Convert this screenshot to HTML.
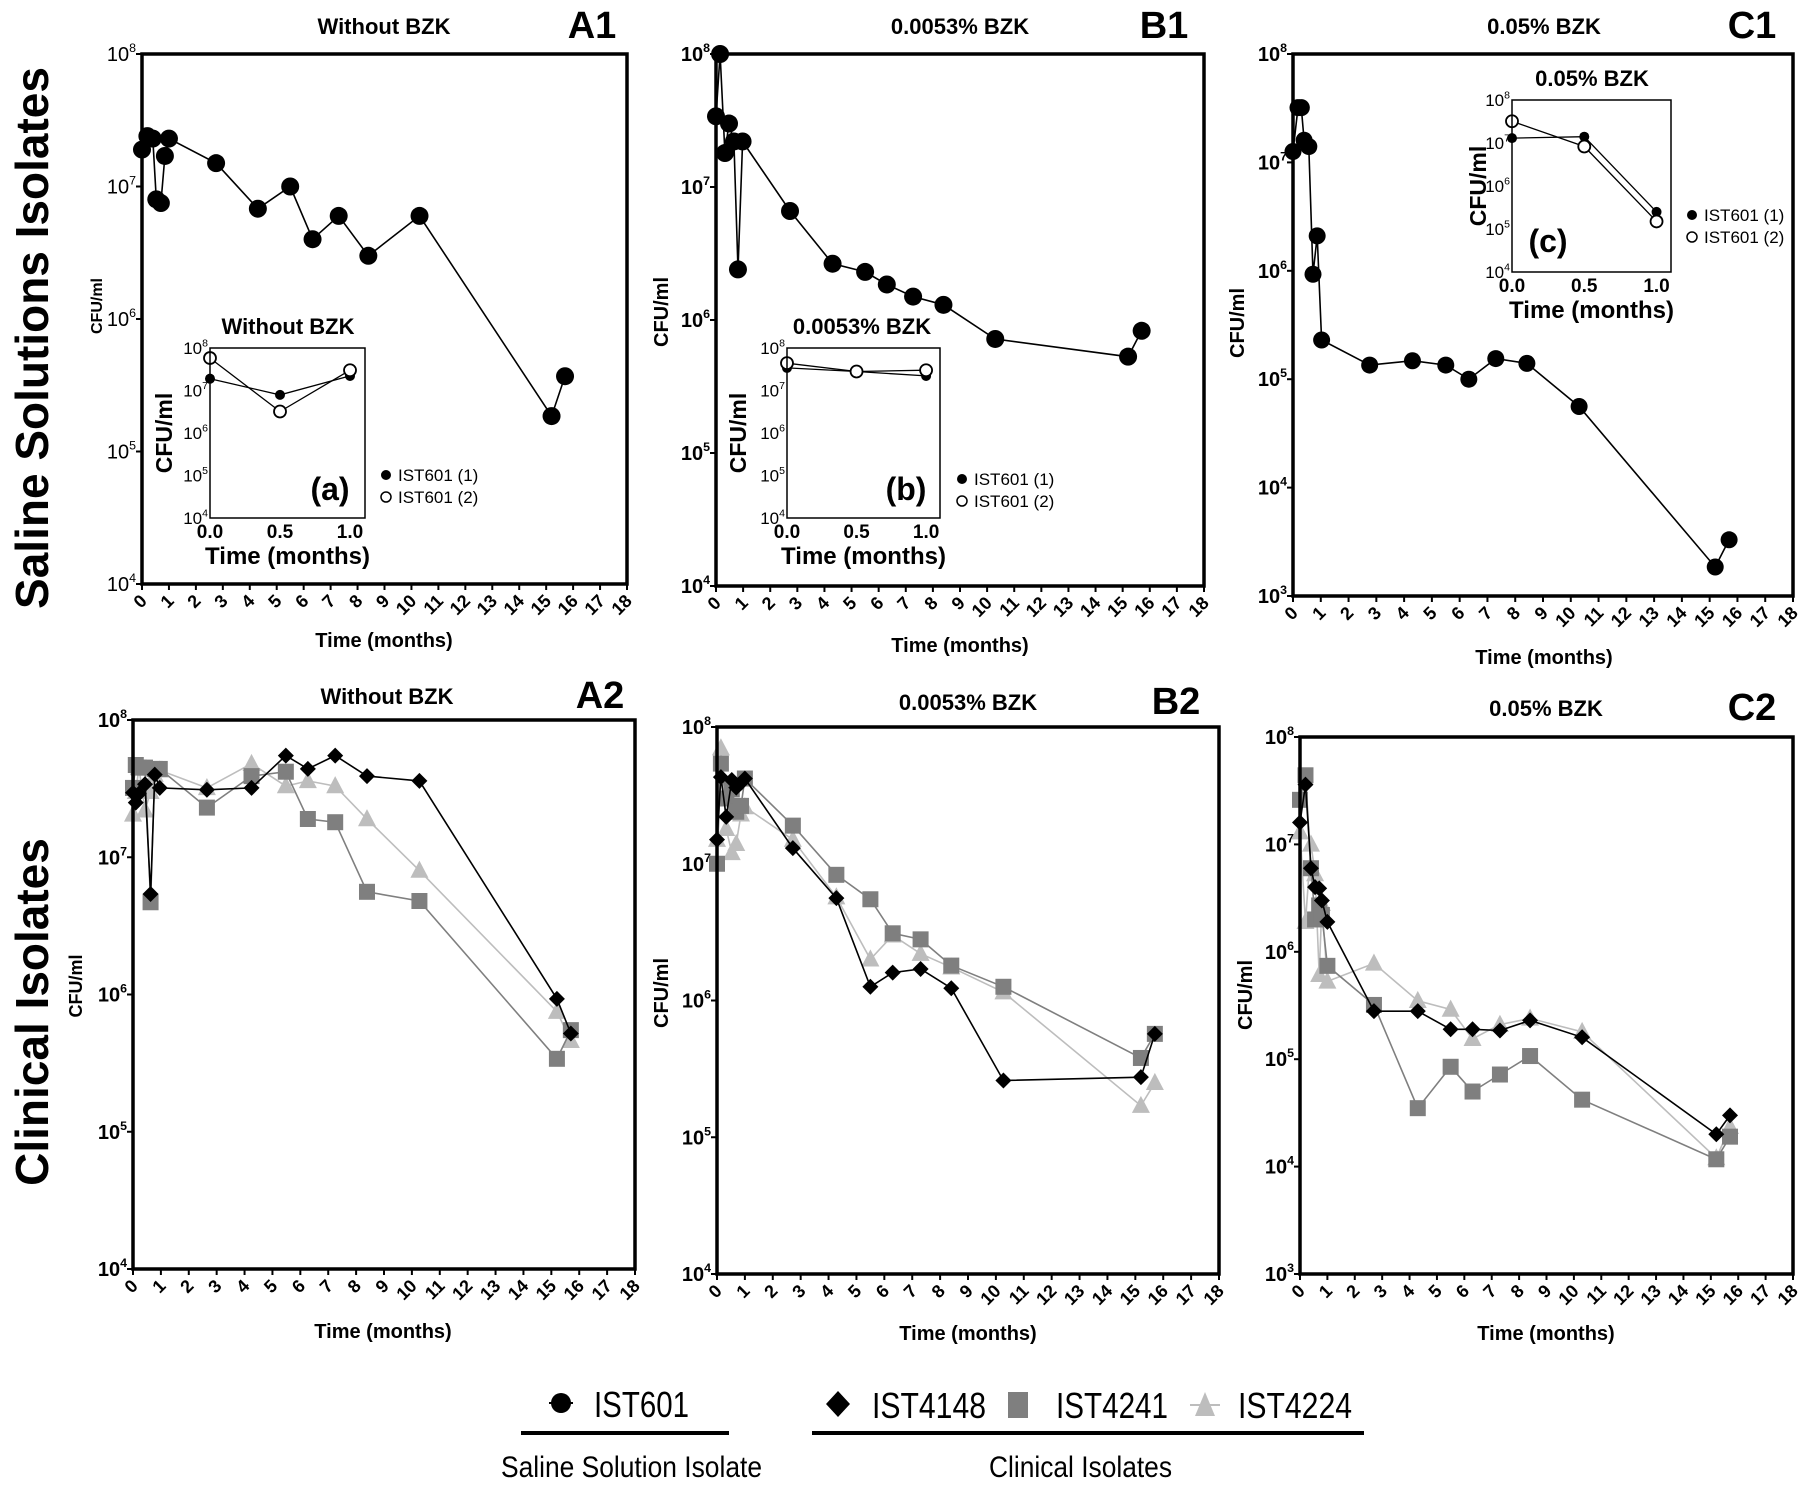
<!DOCTYPE html>
<html><head><meta charset="utf-8"><style>
html,body{margin:0;padding:0;background:#fff;}
svg{display:block;font-family:"Liberation Sans",Arial,sans-serif;}
</style></head><body>
<svg id="fig" width="1807" height="1486" viewBox="0 0 1807 1486" xmlns="http://www.w3.org/2000/svg">
<rect width="1807" height="1486" fill="#fff"/>
<text transform="translate(48,338) rotate(-90)" text-anchor="middle" font-size="46" font-weight="bold">Saline Solutions Isolates</text>
<text transform="translate(48,1012) rotate(-90)" text-anchor="middle" font-size="46" font-weight="bold">Clinical Isolates</text>
<g id="legend">
  <path d="M521 1433 H729" stroke="#000" stroke-width="4"/>
  <line x1="549" y1="1403" x2="573" y2="1403" stroke="#000" stroke-width="2"/>
  <circle cx="561" cy="1403" r="10" fill="#000"/>
  <text x="594" y="1417" font-size="36" textLength="95" lengthAdjust="spacingAndGlyphs">IST601</text>
  <text x="501" y="1477" font-size="30" textLength="261" lengthAdjust="spacingAndGlyphs">Saline Solution Isolate</text>
  <path d="M812 1433 H1364" stroke="#000" stroke-width="4"/>
  <path d="M838 1391 L850 1404 L838 1417 L826 1404 Z" fill="#000"/>
  <text x="872" y="1418" font-size="36" textLength="114" lengthAdjust="spacingAndGlyphs">IST4148</text>
  <rect x="1008" y="1392" width="20" height="26" fill="#7f7f7f"/>
  <text x="1056" y="1418" font-size="36" textLength="112" lengthAdjust="spacingAndGlyphs">IST4241</text>
  <path d="M1205 1392 L1215 1416 L1195 1416 Z" fill="#bdbdbd"/>
  <line x1="1190" y1="1405" x2="1220" y2="1405" stroke="#bdbdbd" stroke-width="2"/>
  <text x="1238" y="1418" font-size="36" textLength="114" lengthAdjust="spacingAndGlyphs">IST4224</text>
  <text x="989" y="1477" font-size="30" textLength="183" lengthAdjust="spacingAndGlyphs">Clinical Isolates</text>
</g>
</svg>
<script>
// ---------- data ----------
const monthTicks = [0,1,2,3,4,5,6,7,8,9,10,11,12,13,14,15,16,17,18];
const a1Time = [0,0.2,0.4,0.53,0.7,0.85,1.0,2.75,4.3,5.5,6.33,7.3,8.4,10.3,15.2,15.7];
const a1IST601 = [1.9e7,2.4e7,2.3e7,8e6,7.5e6,1.7e7,2.3e7,1.5e7,6.8e6,1e7,4e6,6e6,3e6,6e6,1.85e5,3.7e5];
const b1Time = [0,0.15,0.33,0.48,0.66,0.81,0.98,2.73,4.3,5.5,6.3,7.27,8.39,10.3,15.2,15.7];
const b1IST601 = [3.4e7,1e8,1.8e7,3e7,2.2e7,2.4e6,2.2e7,6.6e6,2.65e6,2.3e6,1.85e6,1.5e6,1.3e6,7.2e5,5.3e5,8.3e5];
const c1Time = [0,0.18,0.3,0.4,0.57,0.72,0.87,1.03,2.76,4.3,5.5,6.33,7.3,8.42,10.3,15.2,15.7];
const c1IST601 = [1.26e7,3.2e7,3.2e7,1.6e7,1.4e7,9.3e5,2.1e6,2.3e5,1.35e5,1.48e5,1.35e5,1e5,1.55e5,1.4e5,5.6e4,1.85e3,3.3e3];

const a2Time = [0,0.1,0.21,0.43,0.63,0.78,0.96,2.65,4.25,5.48,6.27,7.25,8.39,10.27,15.2,15.7];
const a2IST4148 = [2.95e7,2.5e7,2.9e7,3.4e7,5.4e6,4e7,3.2e7,3.1e7,3.2e7,5.5e7,4.4e7,5.5e7,3.9e7,3.6e7,9.3e5,5.2e5];
const a2IST4241 = [3.2e7,4.7e7,4.5e7,4.5e7,4.7e6,4.4e7,4.4e7,2.3e7,3.9e7,4.2e7,1.9e7,1.8e7,5.6e6,4.8e6,3.4e5,5.5e5];
const a2IST4224 = [2.05e7,3e7,4.5e7,2.2e7,3e7,4e7,4.3e7,3.2e7,4.8e7,3.3e7,3.6e7,3.3e7,1.9e7,8e6,7.5e5,4.6e5];

const b2Time = [0,0.14,0.33,0.53,0.69,0.86,1.0,2.72,4.28,5.5,6.3,7.3,8.4,10.27,15.2,15.7];
const b2IST4148 = [1.5e7,4.3e7,2.2e7,4.1e7,3.6e7,3.9e7,4.2e7,1.3e7,5.6e6,1.26e6,1.6e6,1.7e6,1.23e6,2.6e5,2.75e5,5.7e5];
const b2IST4241 = [1e7,5.4e7,3e7,3.5e7,2.4e7,2.65e7,4.2e7,1.9e7,8.3e6,5.5e6,3.1e6,2.8e6,1.8e6,1.26e6,3.8e5,5.7e5];
const b2IST4224 = [1.5e7,7e7,1.8e7,1.2e7,1.4e7,2.3e7,2.6e7,1.5e7,5.7e6,2e6,3e6,2.2e6,1.75e6,1.15e6,1.7e5,2.5e5];

const c2Time = [0,0.2,0.4,0.55,0.7,0.8,1.0,2.7,4.3,5.5,6.3,7.3,8.4,10.3,15.2,15.7];
const c2IST4148 = [1.6e7,3.6e7,6e6,4e6,3.9e6,3e6,1.9e6,2.8e5,2.8e5,1.9e5,1.9e5,1.85e5,2.3e5,1.6e5,2e4,3e4];
const c2IST4241 = [2.6e7,4.4e7,6e6,2e6,2.7e6,2.2e6,7.4e5,3.2e5,3.5e4,8.5e4,5e4,7.2e4,1.07e5,4.2e4,1.17e4,1.9e4];
const c2IST4224 = [1.3e7,1.9e6,1e7,5.3e6,6.1e5,2.8e6,5.3e5,7.8e5,3.5e5,2.9e5,1.55e5,2.1e5,2.4e5,1.8e5,1.2e4,2.35e4];

const insetTime = [0,0.5,1.0];
const insetTicks = [0,0.5,1.0];
const insetTickLabels = ["0.0","0.5","1.0"];
const aInset1 = [1.9e7,7.9e6,2.2e7];
const aInset2 = [5.8e7,3.2e6,3e7];
const bInset1 = [3.4e7,2.8e7,2.2e7];
const bInset2 = [4.4e7,2.8e7,3e7];
const cInset1 = [1.3e7,1.4e7,2.5e5];
const cInset2 = [3.2e7,8.3e6,1.5e5];

// ---------- drawing ----------
const NS = "http://www.w3.org/2000/svg";
const svg = document.getElementById('fig');
function mk(tag, attrs, parent){
  const e = document.createElementNS(NS, tag);
  for (const k in attrs) e.setAttribute(k, attrs[k]);
  (parent||svg).appendChild(e);
  return e;
}
function makeScales(p){
  const sx = t => p.x0 + (t - p.xMin) / (p.xMax - p.xMin) * (p.x1 - p.x0);
  const sy = v => p.y0 + (p.dMax - Math.log10(v)) / (p.dMax - p.dMin) * (p.y1 - p.y0);
  return {sx, sy};
}
function powLabel(g, x, y, exp, fs, bold, name){
  const t = mk('text', {x:x, y:y, 'text-anchor':'end', 'font-size':fs, 'font-weight':bold?'bold':'normal'}, g);
  
  
  const a = document.createElementNS(NS,'tspan'); a.textContent='10'; t.appendChild(a);
  const b = document.createElementNS(NS,'tspan'); b.setAttribute('dy', -fs*0.45); b.setAttribute('font-size', fs*0.62); b.textContent=String(exp); t.appendChild(b);
  // shift so whole label ends at x
  t.setAttribute('x', x);
}
function marker(g, type, x, y, s, name){
  let e;
  if (type==='circle') e = mk('circle',{cx:x,cy:y,r:s,fill:'#000'},g);
  else if (type==='open') e = mk('circle',{cx:x,cy:y,r:s,fill:'#fff',stroke:'#000','stroke-width':1.8},g);
  else if (type==='diamond') e = mk('path',{d:`M${x} ${y-s} L${x+s} ${y} L${x} ${y+s} L${x-s} ${y} Z`,fill:'#000'},g);
  else if (type==='square') e = mk('rect',{x:x-s,y:y-s,width:2*s,height:2*s,fill:'#7f7f7f'},g);
  else e = mk('path',{d:`M${x} ${y-s*1.1} L${x+s} ${y+s*0.8} L${x-s} ${y+s*0.8} Z`,fill:'#bdbdbd'},g);
  
  
}
function series(g, sc, times, vals, type, color, size, lw, name){
  const sg = mk('g', {}, g);
  
  
  let d = '';
  times.forEach((t,i)=>{ d += (i?'L':'M') + sc.sx(t).toFixed(1) + ' ' + sc.sy(vals[i]).toFixed(1) + ' '; });
  const ln = mk('path', {d:d, fill:'none', stroke:color, 'stroke-width':lw}, sg);
  
  
  times.forEach((t,i)=>{ marker(sg, type, sc.sx(t), sc.sy(vals[i]), size, name + '-point'); });
}
function mainPanel(p){
  const g = mk('g', {});
  
  
  const sc = makeScales(p);
  const tt = mk('text',{x:p.titleX,y:p.titleY,'text-anchor':'middle','font-size':22,'font-weight':'bold'},g);
  tt.textContent = p.title;
  
  
  const lb = mk('text',{x:p.labX,y:p.titleY+4,'text-anchor':'middle','font-size':38,'font-weight':'bold'},g);
  lb.textContent = p.label;
  
  
  // y ticks
  for (let d=p.dMin; d<=p.dMax; d++){
    const y = sc.sy(Math.pow(10,d));
    const tk = mk('line',{x1:p.x0-6,y1:y,x2:p.x0,y2:y,stroke:'#000','stroke-width':2},g);
    
    
    powLabel(g, p.x0-6, y+7, d, 20, p.boldTicks, 'y-tick-label');
  }
  // x ticks
  monthTicks.forEach(m=>{
    const x = sc.sx(m);
    const tk = mk('line',{x1:x,y1:p.y1,x2:x,y2:p.y1+6,stroke:'#000','stroke-width':2},g);
    
    
    const tl = mk('text',{x:x+6,y:p.y1+18,'text-anchor':'end','font-size':18,'font-weight':'bold',transform:`rotate(-45 ${x+6} ${p.y1+18})`},g);
    tl.textContent = String(m);
    
    
  });
  const yt = mk('text',{transform:`translate(${p.yLabX},${p.yLabY}) rotate(-90)`,'text-anchor':'middle','font-size':p.yLabFs,'font-weight':'bold'},g);
  yt.textContent='CFU/ml';
  
  
  const xt = mk('text',{x:p.xLabX,y:p.xLabY,'text-anchor':'middle','font-size':20,'font-weight':'bold'},g);
  xt.textContent='Time (months)';
  
  
  p.series.forEach(s=> series(g, sc, s.t, s.v, s.type, s.color, s.size, s.lw, p.id + '-' + s.name));
  const fr = mk('rect',{x:p.x0,y:p.y0,width:p.x1-p.x0,height:p.y1-p.y0,fill:'none',stroke:'#000','stroke-width':3.5},g);
  
  
  return g;
}
function insetPanel(p){
  const g = mk('g', {});
  
  
  const sc = makeScales(p);
  const bg = mk('rect',{x:p.x0,y:p.y0,width:p.x1-p.x0,height:p.y1-p.y0,fill:'#fff'},g);
  
  
  const tt = mk('text',{x:p.titleX,y:p.titleY,'text-anchor':'middle','font-size':22,'font-weight':'bold'},g);
  tt.textContent = p.title;
  
  
  for (let d=p.dMin; d<=p.dMax; d++){
    powLabel(g, p.x0-2, sc.sy(Math.pow(10,d))+6, d, 17, false, 'inset-y-tick-label');
  }
  insetTicks.forEach((t,i)=>{
    const tl = mk('text',{x:sc.sx(t),y:p.y1+20,'text-anchor':'middle','font-size':19,'font-weight':'bold'},g);
    tl.textContent = insetTickLabels[i];
    
    
  });
  const yt = mk('text',{transform:`translate(${p.yLabX},${(p.y0+p.y1)/2}) rotate(-90)`,'text-anchor':'middle','font-size':23,'font-weight':'bold'},g);
  yt.textContent='CFU/ml';
  
  
  const xt = mk('text',{x:(p.x0+p.x1)/2,y:p.y1+46,'text-anchor':'middle','font-size':24,'font-weight':'bold'},g);
  xt.textContent='Time (months)';
  
  
  const lt = mk('text',{x:p.letX,y:p.letY,'text-anchor':'middle','font-size':32,'font-weight':'bold'},g);
  lt.textContent = p.letter;
  
  
  series(g, sc, insetTime, p.s1, 'circle', '#000', 5, 1.3, p.id + '-inset-ist601-1');
  series(g, sc, insetTime, p.s2, 'open', '#000', 6, 1.3, p.id + '-inset-ist601-2');
  const fr = mk('rect',{x:p.x0,y:p.y0,width:p.x1-p.x0,height:p.y1-p.y0,fill:'none',stroke:'#000','stroke-width':1.5},g);
  
  
  // legend
  const m1 = mk('circle',{cx:p.legX,cy:p.legY,r:5,fill:'#000'},g);
  
  
  const m2 = mk('circle',{cx:p.legX,cy:p.legY+22,r:5,fill:'#fff',stroke:'#000','stroke-width':1.5},g);
  
  
  const l1 = mk('text',{x:p.legX+12,y:p.legY+6,'font-size':17},g);
  l1.textContent='IST601 (1)';
  
  
  const l2 = mk('text',{x:p.legX+12,y:p.legY+28,'font-size':17},g);
  l2.textContent='IST601 (2)';
  
  
}
const BLK = {type:'circle',color:'#000',size:9,lw:1.6};
function clin(t,a,b,c){
  return [
    {name:'ist4224', t:t, v:c, type:'triangle', color:'#bdbdbd', size:9, lw:1.6},
    {name:'ist4241', t:t, v:b, type:'square', color:'#7f7f7f', size:8, lw:1.6},
    {name:'ist4148', t:t, v:a, type:'diamond', color:'#000', size:8, lw:1.6}
  ];
}
mainPanel({id:'a1',title:'Without BZK',label:'A1',titleX:384,labX:592,titleY:34,x0:142,x1:627,y0:54,y1:584,xMin:0,xMax:18,dMin:4,dMax:8,boldTicks:false,
  yLabX:102,yLabY:306,yLabFs:16,xLabX:384,xLabY:647,
  series:[Object.assign({name:'ist601',t:a1Time,v:a1IST601},BLK)]});
insetPanel({id:'a1',title:'Without BZK',titleX:288,titleY:334,x0:210,x1:365,y0:348,y1:518,xMin:0,xMax:1.107,dMin:4,dMax:8,
  yLabX:172,letter:'(a)',letX:330,letY:500,legX:386,legY:475,s1:aInset1,s2:aInset2});

mainPanel({id:'b1',title:'0.0053% BZK',label:'B1',titleX:960,labX:1164,titleY:34,x0:716,x1:1204,y0:54,y1:586,xMin:0,xMax:18,dMin:4,dMax:8,boldTicks:true,
  yLabX:668,yLabY:312,yLabFs:20,xLabX:960,xLabY:652,
  series:[Object.assign({name:'ist601',t:b1Time,v:b1IST601},BLK)]});
insetPanel({id:'b1',title:'0.0053%  BZK',titleX:862,titleY:334,x0:787,x1:940,y0:348,y1:518,xMin:0,xMax:1.1,dMin:4,dMax:8,
  yLabX:746,letter:'(b)',letX:906,letY:500,legX:962,legY:479,s1:bInset1,s2:bInset2});

mainPanel({id:'c1',title:'0.05% BZK',label:'C1',titleX:1544,labX:1752,titleY:34,x0:1293,x1:1793,y0:54,y1:596,xMin:0,xMax:18,dMin:3,dMax:8,boldTicks:true,
  yLabX:1244,yLabY:323,yLabFs:20,xLabX:1544,xLabY:664,
  series:[Object.assign({name:'ist601',t:c1Time,v:c1IST601},Object.assign({},BLK,{size:8.5}))]});
insetPanel({id:'c1',title:'0.05%  BZK',titleX:1592,titleY:86,x0:1512,x1:1671,y0:100,y1:272,xMin:0,xMax:1.1,dMin:4,dMax:8,
  yLabX:1486,letter:'(c)',letX:1548,letY:252,legX:1692,legY:215,s1:cInset1,s2:cInset2});

mainPanel({id:'a2',title:'Without BZK',label:'A2',titleX:387,labX:600,titleY:704,x0:133,x1:635,y0:720,y1:1269,xMin:0,xMax:18,dMin:4,dMax:8,boldTicks:true,
  yLabX:82,yLabY:986,yLabFs:18,xLabX:383,xLabY:1338,
  series:clin(a2Time,a2IST4148,a2IST4241,a2IST4224)});
mainPanel({id:'b2',title:'0.0053% BZK',label:'B2',titleX:968,labX:1176,titleY:710,x0:717,x1:1219,y0:727,y1:1274,xMin:0,xMax:18,dMin:4,dMax:8,boldTicks:true,
  yLabX:668,yLabY:993,yLabFs:20,xLabX:968,xLabY:1340,
  series:clin(b2Time,b2IST4148,b2IST4241,b2IST4224)});
mainPanel({id:'c2',title:'0.05% BZK',label:'C2',titleX:1546,labX:1752,titleY:716,x0:1300,x1:1793,y0:737,y1:1274,xMin:0,xMax:18,dMin:3,dMax:8,boldTicks:true,
  yLabX:1252,yLabY:995,yLabFs:20,xLabX:1546,xLabY:1340,
  series:clin(c2Time,c2IST4148,c2IST4241,c2IST4224)});
</script>
</body></html>
